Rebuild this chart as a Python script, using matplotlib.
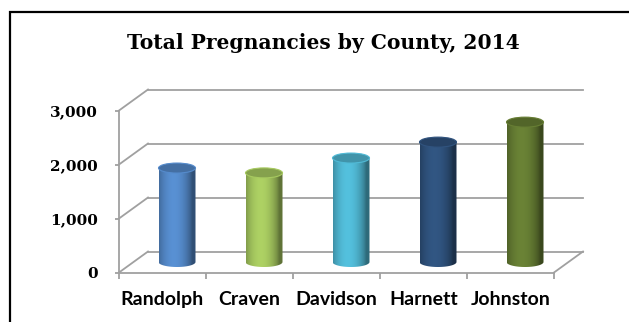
import numpy as np
import matplotlib
matplotlib.use("Agg")
from matplotlib import pyplot as plt
from matplotlib.patches import Ellipse, PathPatch, Rectangle
from matplotlib.path import Path
from matplotlib.ticker import FuncFormatter

counties = ["Randolph", "Craven", "Davidson", "Harnett", "Johnston"]
pregnancies = [1740, 1650, 1925, 2220, 2590]
colors = ["#4F81BD", "#9BBB59", "#4BACC6", "#2C4D75", "#5F7530"]
y_ticks = [0, 1000, 2000, 3000]

W, H = 629, 322
fig = plt.figure(figsize=(W / 100, H / 100), dpi=100)
fig.patch.set_facecolor("white")

# front plane of the 3d box, in figure pixels
x0, x1 = 119, 554
y0, y1 = 272.5, 110.5
ax = fig.add_axes([x0 / W, 1 - y0 / H, (x1 - x0) / W, (y0 - y1) / H])
ax.set_xlim(0, len(counties))
ax.set_ylim(0, 3000)
ax.patch.set_visible(False)

# depth offset of the back wall (data units)
DX = 29 / 87
DY = 21 / 54 * 1000
grid_c = "#A0A0A0"
lw = 1.3

for v in y_ticks:
    ax.plot([DX, len(counties) + DX], [v + DY, v + DY], color=grid_c, lw=lw, clip_on=False, zorder=1)
    ax.plot([0, DX], [v, v + DY], color=grid_c, lw=lw, clip_on=False, zorder=1)
ax.plot([len(counties), len(counties) + DX], [0, DY], color=grid_c, lw=lw, clip_on=False, zorder=1)

for s in ["top", "right"]:
    ax.spines[s].set_visible(False)
for s in ["left", "bottom"]:
    ax.spines[s].set_color(grid_c)
    ax.spines[s].set_linewidth(lw)

ax.set_yticks(y_ticks)
ax.yaxis.set_major_formatter(FuncFormatter(lambda v, p: f"{v:,.0f}"))
ax.tick_params(axis="y", length=3, width=lw, color=grid_c, pad=12)
ax.set_xticks(range(len(counties) + 1))
ax.set_xticklabels([])
ax.set_xticks(np.arange(len(counties)) + 0.5, minor=True)
ax.set_xticklabels(counties, minor=True)
ax.tick_params(axis="x", which="major", length=4, width=lw, color=grid_c, direction="out")
ax.tick_params(axis="x", which="minor", length=0, pad=13)
for lab in ax.get_yticklabels():
    lab.set_fontfamily("DejaVu Serif")
    lab.set_fontweight("bold")
    lab.set_fontsize(11)
for lab in ax.get_xticklabels(minor=True):
    lab.set_fontfamily("Lato")
    lab.set_fontweight("bold")
    lab.set_fontsize(14)

# cylinders
hw = 18.5 / 87
eh = 5 / 54 * 1000
t = np.linspace(0, 1, 64)
shade = 0.62 + 0.5 * np.clip(np.cos(np.pi * (t - 0.4)), 0, 1) ** 0.7

for i, (val, c) in enumerate(zip(pregnancies, colors)):
    cx = i + 0.5 + DX / 2
    base = DY / 2
    top = base + val
    rgb = np.array(matplotlib.colors.to_rgb(c))
    ang = np.linspace(0, np.pi, 40)
    arc_x = cx + hw * np.cos(ang)
    arc_y = base - eh * np.sin(ang)
    verts = [(cx - hw, top), (cx + hw, top)] + list(zip(arc_x, arc_y)) + [(cx - hw, top)]
    path = Path(verts)
    body = PathPatch(path, facecolor="none", edgecolor="none", zorder=3)
    ax.add_patch(body)
    grad = np.clip(rgb[None, :] * shade[:, None], 0, 1)[None, :, :]
    im = ax.imshow(grad, extent=[cx - hw, cx + hw, base - eh, top], aspect="auto",
                   interpolation="bilinear", zorder=3, clip_on=True)
    im.set_clip_path(body)
    cap = Ellipse((cx, top), 2 * hw, 2 * eh, facecolor=np.clip(rgb * 0.86, 0, 1),
                  edgecolor=np.clip(rgb * 1.08, 0, 1), lw=0.8, zorder=4, clip_on=False)
    ax.add_patch(cap)

ax.set_xlim(0, len(counties))
ax.set_ylim(0, 3000)

fig.text(323 / W, 1 - 43 / H, "Total Pregnancies by County, 2014", ha="center", va="center",
         fontsize=14.6, fontweight="bold", family="DejaVu Serif")

# outer frame
fig.add_artist(Rectangle((10 / W, -0.1), 1.2, 1.1 - 12 / H, transform=fig.transFigure,
                         fill=False, edgecolor="black", lw=1.6))

fig.savefig("out.png", dpi=100)
